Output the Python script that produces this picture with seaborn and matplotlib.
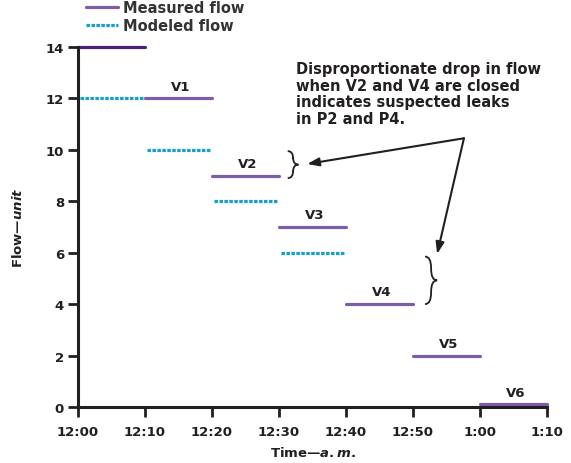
import numpy as np
import pandas as pd
import matplotlib
matplotlib.use("Agg")
import matplotlib.pyplot as plt
from matplotlib.lines import Line2D
from matplotlib.path import Path
from matplotlib.patches import PathPatch
import seaborn as sns

# minutes after 12:00 a.m.
meas_start = [0, 10, 20, 30, 40, 50, 60]
meas_end = [10, 20, 30, 40, 50, 60, 70]
meas_flow = [14, 12, 9, 7, 4, 2, 0.1]
valve_labels = ["", "V1", "V2", "V3", "V4", "V5", "V6"]

mod_start = [0, 10, 20, 30]
mod_end = [10, 20, 30, 40]
mod_flow = [12, 10, 8, 6]

xticks = [0, 10, 20, 30, 40, 50, 60, 70]
xticklabels = ["12:00", "12:10", "12:20", "12:30", "12:40", "12:50", "1:00", "1:10"]
yticks = [0, 2, 4, 6, 8, 10, 12, 14]

note = ("Disproportionate drop in flow\nwhen V2 and V4 are closed\n"
        "indicates suspected leaks\nin P2 and P4.")

PURPLE = "#7b5ea7"
DARK_PURPLE = "#4a2379"
CYAN = "#1a9fc6"
INK = "#231f20"

sns.set_style("white")
plt.rcParams["font.family"] = ["DejaVu Sans"]
plt.rcParams["font.weight"] = "bold"
plt.rcParams["mathtext.fontset"] = "custom"
plt.rcParams["mathtext.rm"] = "DejaVu Sans:bold"
plt.rcParams["mathtext.it"] = "DejaVu Sans:italic:bold"


def segments(starts, ends, vals):
    rows = []
    for i, (a, b, v) in enumerate(zip(starts, ends, vals)):
        rows.append({"seg": i, "t": a, "flow": v})
        rows.append({"seg": i, "t": b, "flow": v})
    return pd.DataFrame(rows)


meas = segments(meas_start, meas_end, meas_flow)
mod = segments(mod_start, mod_end, mod_flow)
# modeled dashes sit slightly inside their 10-minute slot
mod["t"] = mod["t"] + np.where(mod.index % 2 == 0, 0.3, -0.3)


def brace(ax, x, y0, y1, w, r):
    ym = (y0 + y1) / 2
    xm = x + w / 2
    verts = [(x, y1), (xm, y1), (xm, y1 - r),
             (xm, ym + r), (xm, ym), (x + w, ym),
             (xm, ym), (xm, ym - r),
             (xm, y0 + r), (xm, y0), (x, y0)]
    codes = [Path.MOVETO, Path.CURVE3, Path.CURVE3,
             Path.LINETO, Path.CURVE3, Path.CURVE3,
             Path.CURVE3, Path.CURVE3,
             Path.LINETO, Path.CURVE3, Path.CURVE3]
    ax.add_patch(PathPatch(Path(verts, codes), fill=False, lw=1.3,
                           edgecolor=INK, clip_on=False))


fig = plt.figure(figsize=(5.71, 4.64), dpi=100)
ax = fig.add_axes([0.1366, 0.1207, 0.8214, 0.7759])

sns.lineplot(data=meas[meas["seg"] > 0], x="t", y="flow", units="seg",
             estimator=None, color=PURPLE, lw=2.3, ax=ax, clip_on=False)
sns.lineplot(data=meas[meas["seg"] == 0], x="t", y="flow",
             estimator=None, color=DARK_PURPLE, lw=2.3, ax=ax, clip_on=False)
sns.lineplot(data=mod, x="t", y="flow", units="seg", estimator=None,
             color=CYAN, lw=2.3, ax=ax, clip_on=False)
for ln in ax.lines[-len(mod_flow):]:
    ln.set_linestyle((0, (1.1, 0.45)))
    ln.set_dash_capstyle("butt")

for a, b, v, lab in zip(meas_start, meas_end, meas_flow, valve_labels):
    if lab:
        ax.text((a + b) / 2 + 0.3, v + 0.22, lab, ha="center", va="bottom",
                fontsize=9.5, fontweight="bold", color=INK)

ax.text(32.6, 13.47, note, ha="left", va="top", fontsize=10.5,
        fontweight="bold", color=INK, linespacing=1.16)

brace(ax, 31.3, 8.9, 9.95, 1.6, 0.28)
brace(ax, 51.8, 4.0, 5.85, 1.8, 0.45)

arrow = dict(arrowstyle="-|>,head_length=0.7,head_width=0.25", lw=1.5,
             color=INK, shrinkA=0, shrinkB=0)
ax.annotate("", xy=(34.2, 9.45), xytext=(57.6, 10.45), arrowprops=arrow)
ax.annotate("", xy=(53.6, 5.95), xytext=(57.6, 10.45), arrowprops=arrow)

ax.set_xlim(0, 70)
ax.set_ylim(0, 14)
ax.set_xticks(xticks)
ax.set_xticklabels(xticklabels)
ax.set_yticks(yticks)
ax.tick_params(direction="out", length=7, width=2, colors=INK,
               labelsize=9.5, pad=3, bottom=True, left=True)
ax.tick_params(axis="x", pad=6)
for lab in ax.get_xticklabels() + ax.get_yticklabels():
    lab.set_fontweight("bold")
for side in ["top", "right"]:
    ax.spines[side].set_visible(False)
for side in ["left", "bottom"]:
    ax.spines[side].set_linewidth(2.2)
    ax.spines[side].set_color(INK)

ax.set_xlabel("Time\u2014$\\mathit{a.m.}$", fontsize=9.5, fontweight="bold",
              color=INK, labelpad=5)
ax.set_ylabel("Flow\u2014$\\mathit{unit}$", fontsize=9.5, fontweight="bold",
              color=INK, labelpad=15)

handles = [Line2D([], [], color=PURPLE, lw=2.3),
           Line2D([], [], color=CYAN, lw=2.3, linestyle=(0, (1.1, 0.45)),
                  dash_capstyle="butt")]
leg = fig.legend(handles, ["Measured flow", "Modeled flow"], loc="upper left",
                 bbox_to_anchor=(0.128, 1.026), frameon=False, fontsize=10.5,
                 handlelength=2.2, handletextpad=0.35, labelspacing=0.2)
for t in leg.get_texts():
    t.set_fontweight("bold")
    t.set_color("#333333")

fig.savefig("out.png", dpi=100)
